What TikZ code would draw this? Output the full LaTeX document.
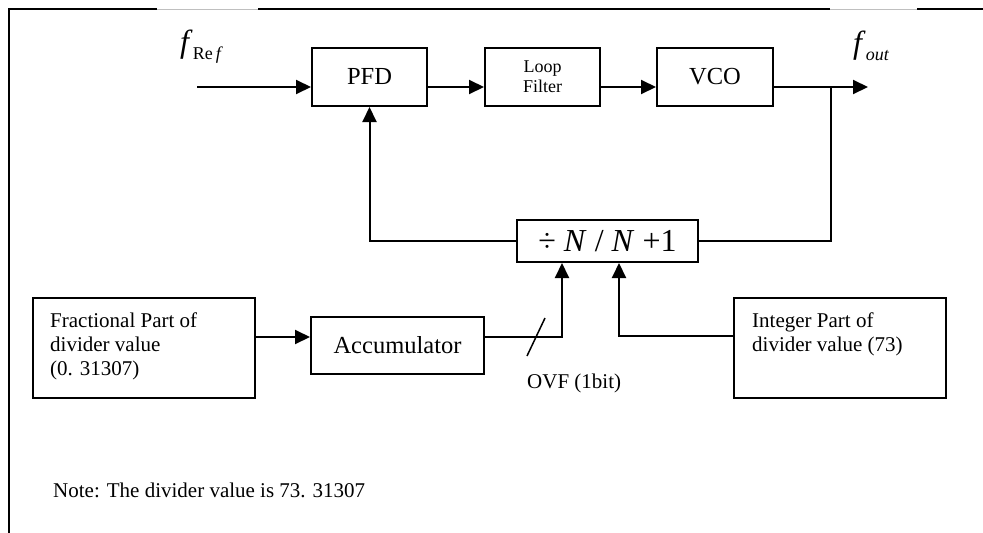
\documentclass[tikz,border=0pt]{standalone}
\usepackage{fontspec}
\setmainfont{Liberation Serif}
\usetikzlibrary{arrows.meta,calc}
\begin{document}
\begin{tikzpicture}[x=1pt,y=-1pt,
  blk/.style={draw, line width=2pt, inner sep=0pt},
  conn/.style={line width=2pt},
  arr/.style={conn, -{Triangle[length=15pt,width=14pt]}},
  big/.style={font=\fontsize{24.5}{28}\selectfont},
  txt/.style={inner sep=0pt, align=left, font=\fontsize{21}{24}\selectfont},
]
\useasboundingbox (0,0) rectangle (983,533);
% frame
\draw[line width=2pt] (8,9) -- (157,9) (258,9) -- (830,9) (917,9) -- (983,9);
\draw[black!25, line width=1pt] (157,9.5) -- (258,9.5) (830,9.5) -- (917,9.5);
\draw[line width=2pt] (9,8) -- (9,533);

% blocks
\node[blk, big, minimum width=115pt, minimum height=58pt] (pfd) at (369.5,77) {PFD};
\node[blk, minimum width=115pt, minimum height=58pt, align=center,
      font=\fontsize{18}{20}\selectfont] (lf) at (542.5,77) {Loop\\Filter};
\node[blk, big, minimum width=116pt, minimum height=58pt] (vco) at (715,77) {VCO};
\node[blk, minimum width=181pt, minimum height=42pt, font=\fontsize{32}{34}\selectfont] (div) at (607.5,241)
  {÷ \textit{N} / \textit{N} +1};
\node[blk, big, minimum width=173pt, minimum height=57pt] (acc) at (397.5,345.5) {Accumulator};
\node[blk, minimum width=222pt, minimum height=100pt] (frac) at (144,348) {};
\node[blk, minimum width=212pt, minimum height=100pt] (int) at (840,348) {};

% texts
\node[txt, anchor=north west] (fractxt) at (50,312.5) {Fractional Part of\\divider value\\(0. 31307)};
\node[txt, anchor=north west] (inttxt) at (752,312.5) {Integer Part of\\divider value (73)};
\node[txt, anchor=base west] (note) at (53,497) {Note: The divider value is 73. 31307};
\node[txt, anchor=base west] (ovf) at (527,388) {OVF (1bit)};
\node[inner sep=0pt, anchor=base west] (fref) at (180,52)
  {\fontsize{32}{32}\selectfont\textit{f}\raisebox{-7pt}{\fontsize{18}{18}\selectfont Re\,\textit{f}}};
\node[inner sep=0pt, anchor=base west] (fout) at (853,53)
  {\fontsize{32}{32}\selectfont\textit{f}\raisebox{-7pt}{\fontsize{18}{18}\selectfont\textit{out}}};

% coordinates
\coordinate (in) at (197,87);
\coordinate (tap) at (831,87);
\coordinate (outend) at (868,87);
\coordinate (slA) at (527,356);
\coordinate (slB) at (545,318);

% connectors
\draw[arr] (in) -- ($(pfd.west)+(0,10)$);
\draw[arr] ($(pfd.east)+(0,10)$) -- ($(lf.west)+(0,10)$);
\draw[arr] ($(lf.east)+(0,10)$) -- ($(vco.west)+(0,10)$);
\draw[arr] ($(vco.east)+(0,10)$) -- (outend);
\draw[conn] (div.east) -| (tap);
\draw[arr] (div.west) -| (pfd.south);
\draw[arr] ($(frac.east)+(0,-11)$) -- ($(acc.west)+(0,-8.5)$);
\draw[arr] ($(acc.east)+(0,-8.5)$) -| ($(div.south)+(-45.5,0)$);
\draw[arr] ($(int.west)+(0,-12)$) -| ($(div.south)+(11.5,0)$);
\draw[line width=1.5pt] (slA) -- (slB);
\end{tikzpicture}
\end{document}
